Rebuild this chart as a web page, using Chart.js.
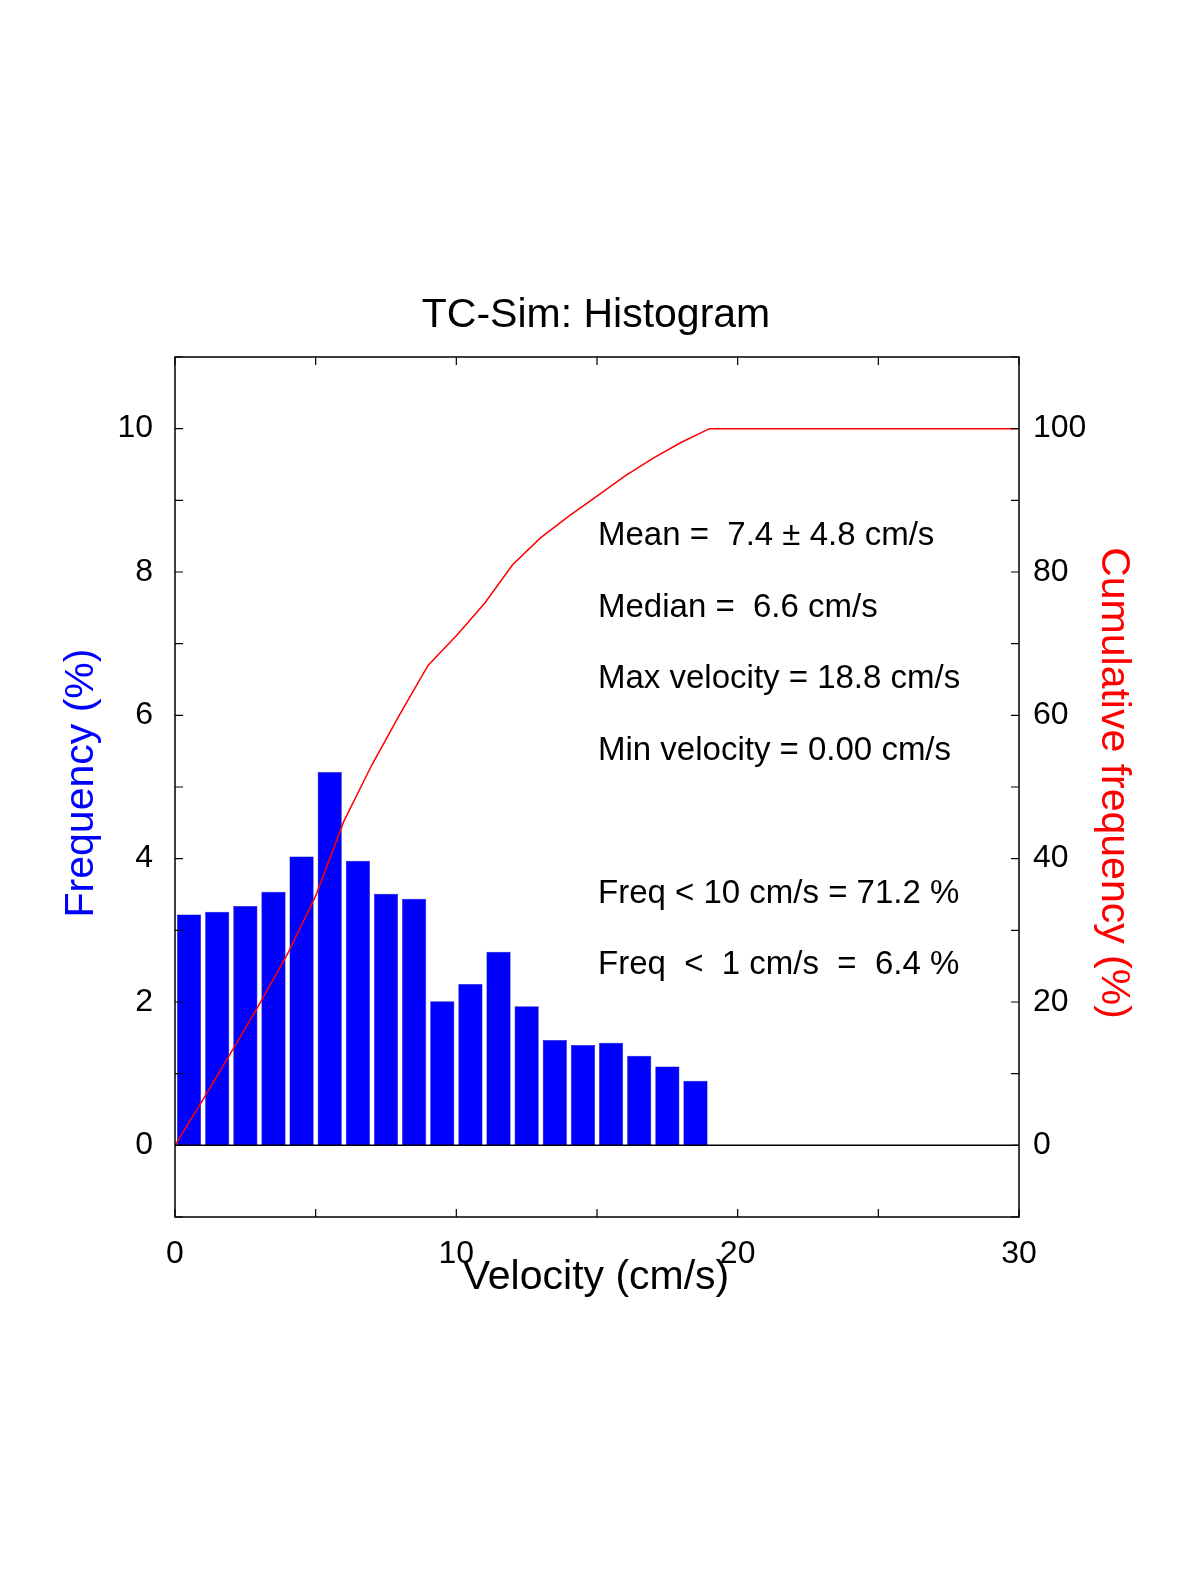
<!DOCTYPE html>
<html><head><meta charset="utf-8">
<script src="https://cdn.jsdelivr.net/npm/chart.js@4/dist/chart.umd.min.js"></script>
<style>html,body{margin:0;padding:0;background:#fff;overflow:hidden}#w{width:1200px;height:1575px}</style>
</head><body><div id="w"><canvas id="c"></canvas></div>
<script>
const binCenters=[0.5,1.5,2.5,3.5,4.5,5.5,6.5,7.5,8.5,9.5,10.5,11.5,12.5,13.5,14.5,15.5,16.5,17.5,18.5];
const freq=[3.22,3.26,3.34,3.54,4.03,5.21,3.97,3.51,3.44,2.01,2.25,2.70,1.94,1.47,1.40,1.43,1.25,1.10,0.90];
const cumX=[0,1,2,3,4,5,6,7,8,9,10,11,12,13,14,15,16,17,18,19,30];
const cumY=[0,6.4,13,19.7,26.7,34.8,45.2,53.1,60.2,67,71.1,75.6,81,84.8,87.8,90.6,93.4,95.9,98.1,100,100];
const xTicks=[0,10,20,30];
const yTicks=[0,2,4,6,8,10];
const y2Ticks=[0,20,40,60,80,100];
const notes=["Mean =  7.4 \u00b1 4.8 cm/s","Median =  6.6 cm/s","Max velocity = 18.8 cm/s","Min velocity = 0.00 cm/s","","Freq < 10 cm/s = 71.2 %","Freq  <  1 cm/s  =  6.4 %"];
const F='"Liberation Sans", Arial, sans-serif';
const deco={id:'deco',afterDraw(ch){
 const c=ch.ctx,a=ch.chartArea,x=ch.scales.x,y=ch.scales.y,y2=ch.scales.y2;
 c.save();c.strokeStyle='#000';c.lineWidth=1.5;
 c.strokeRect(a.left,a.top,a.right-a.left,a.bottom-a.top);
 c.beginPath();c.moveTo(a.left,y.getPixelForValue(0));c.lineTo(a.right,y.getPixelForValue(0));c.stroke();
 c.lineWidth=1.2;c.beginPath();
 for(let v=0;v<=30;v+=5){const p=x.getPixelForValue(v);c.moveTo(p,a.bottom);c.lineTo(p,a.bottom-8);c.moveTo(p,a.top);c.lineTo(p,a.top+8);}
 for(let v=-1;v<=11;v++){const p=y.getPixelForValue(v);c.moveTo(a.left,p);c.lineTo(a.left+8,p);}
 for(let v=-10;v<=110;v+=10){const p=y2.getPixelForValue(v);c.moveTo(a.right,p);c.lineTo(a.right-8,p);}
 c.stroke();
 c.fillStyle='#000';c.font='41px '+F;c.textAlign='center';c.textBaseline='middle';
 c.fillText('TC-Sim: Histogram',596,316);
 c.fillText('Velocity (cm/s)',596,1278);
 c.save();c.translate(82,783);c.rotate(-Math.PI/2);c.fillStyle='#0000ff';c.fillText('Frequency (%)',0,0);c.restore();
 c.save();c.translate(1113,783);c.rotate(Math.PI/2);c.fillStyle='#ff0000';c.fillText('Cumulative frequency (%)',0,0);c.restore();
 c.font='33px '+F;c.textAlign='left';c.fillStyle='#000';
 notes.forEach((t,i)=>{if(t)c.fillText(t,598,536+i*71.5);});
 c.restore();}};
new Chart(document.getElementById('c'),{
 type:'bar',
 data:{datasets:[
  {type:'line',data:cumX.map((v,i)=>({x:v,y:cumY[i]})),yAxisID:'y2',borderColor:'#ff0000',borderWidth:1.5,pointRadius:0,tension:0,order:0},
  {type:'bar',data:binCenters.map((v,i)=>({x:v,y:freq[i]})),yAxisID:'y',backgroundColor:'#0000ff',borderColor:'#00008b',borderWidth:0.5,barPercentage:0.86,categoryPercentage:1,order:1}
 ]},
 options:{responsive:true,maintainAspectRatio:false,animation:false,devicePixelRatio:1,
  layout:{padding:{top:357,left:0,right:0,bottom:0}},
  plugins:{legend:{display:false},tooltip:{enabled:false}},
  scales:{
   x:{type:'linear',offset:false,min:0,max:30,grid:{display:false,offset:false},border:{display:false},
      afterBuildTicks:s=>{s.ticks=xTicks.map(v=>({value:v}));},
      afterFit:s=>{s.height=358;},
      ticks:{color:'#000',font:{size:32,family:F},padding:10,maxRotation:0}},
   y:{position:'left',min:-1,max:11,grid:{display:false},border:{display:false},
      afterBuildTicks:s=>{s.ticks=yTicks.map(v=>({value:v}));},
      afterFit:s=>{s.width=175;},
      ticks:{color:'#000',font:{size:32,family:F},padding:14}},
   y2:{position:'right',min:-10,max:110,grid:{display:false},border:{display:false},
      afterBuildTicks:s=>{s.ticks=y2Ticks.map(v=>({value:v}));},
      afterFit:s=>{s.width=181;},
      ticks:{color:'#000',font:{size:32,family:F},padding:6}}
  }},
 plugins:[deco]});
</script></body></html>
